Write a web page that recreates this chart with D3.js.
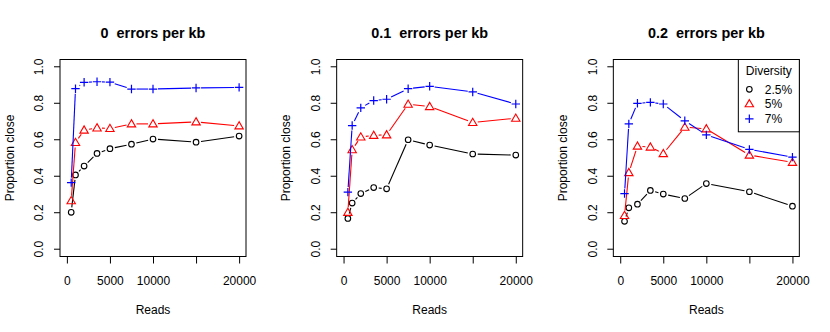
<!DOCTYPE html>
<html><head><meta charset="utf-8">
<script src="https://cdn.jsdelivr.net/npm/d3@7"></script>
<style>html,body{margin:0;padding:0;background:#fff;}svg{display:block;font-family:"Liberation Sans",Arial,Helvetica,sans-serif;}svg text{white-space:pre;}</style>
</head><body>
<script>
const reads = [500, 1000, 2000, 3500, 5000, 7500, 10000, 15000, 20000];
const panelTitles = ["0  errors per kb", "0.1  errors per kb", "0.2  errors per kb"];
const diversity = ["2.5%", "5%", "7%"];
const seriesColors = ["#000000", "#ff0000", "#0000ff"];
const xTicks = [0, 5000, 10000, 15000, 20000];
const xTickLabels = ["0", "5000", "10000", "", "20000"];
const yTicks = [0, 0.2, 0.4, 0.6, 0.8, 1.0];
const yTickLabels = ["0.0", "0.2", "0.4", "0.6", "0.8", "1.0"];
// values per panel: [2.5%, 5%, 7%]
const panel0 = [
  [0.202, 0.407, 0.456, 0.525, 0.551, 0.576, 0.604, 0.587, 0.620],
  [0.266, 0.585, 0.653, 0.665, 0.662, 0.687, 0.687, 0.698, 0.676],
  [0.365, 0.880, 0.915, 0.918, 0.916, 0.878, 0.878, 0.884, 0.887]
];
const panel1 = [
  [0.169, 0.253, 0.305, 0.338, 0.331, 0.600, 0.571, 0.522, 0.516],
  [0.202, 0.545, 0.615, 0.624, 0.627, 0.795, 0.782, 0.695, 0.718],
  [0.313, 0.678, 0.775, 0.815, 0.822, 0.880, 0.893, 0.862, 0.796]
];
const panel2 = [
  [0.153, 0.227, 0.247, 0.322, 0.302, 0.278, 0.360, 0.315, 0.236],
  [0.185, 0.420, 0.565, 0.560, 0.524, 0.669, 0.660, 0.516, 0.476],
  [0.305, 0.687, 0.800, 0.805, 0.796, 0.704, 0.627, 0.547, 0.505]
];
const panels = [panel0, panel1, panel2];

const W = 830, H = 332;
const svg = d3.select("body").append("svg").attr("width", W).attr("height", H);
const panelW = W / 3;
const boxL = 60, boxW = 186, boxT = 59.5, boxB = 256.5;
const xDom = [0, 20000], yDom = [0, 1];
const xPad = (xDom[1] - xDom[0]) * 0.04, yPad = (yDom[1] - yDom[0]) * 0.04;
const fs = 12;

function symbol(g, type, x, y, color) {
  if (type === 0) {
    g.append("circle").attr("cx", x).attr("cy", y).attr("r", 2.8)
      .attr("fill", "none").attr("stroke", color).attr("stroke-width", 1.1);
  } else if (type === 1) {
    const s = 4.2;
    const pts = [[x, y - s * 1.0], [x - s, y + s * 0.72], [x + s, y + s * 0.72]];
    g.append("path").attr("d", "M" + pts.map(p => p.join(",")).join("L") + "Z")
      .attr("fill", "none").attr("stroke", color).attr("stroke-width", 1.1);
  } else {
    const s = 4.2;
    g.append("path").attr("d", `M${x - s},${y}H${x + s}M${x},${y - s}V${y + s}`)
      .attr("stroke", color).attr("stroke-width", 1.2);
  }
}

panels.forEach((pdata, pi) => {
  const g = svg.append("g").attr("transform", `translate(${pi * panelW},0)`);
  const x = d3.scaleLinear().domain([xDom[0] - xPad, xDom[1] + xPad]).range([boxL, boxL + boxW]);
  const y = d3.scaleLinear().domain([yDom[0] - yPad, yDom[1] + yPad]).range([boxB, boxT]);

  // title
  g.append("text").attr("x", boxL + boxW / 2).attr("y", 37.5).attr("text-anchor", "middle")
    .attr("font-weight", "bold").attr("font-size", 14.4).text(panelTitles[pi]);

  // y axis
  const yAxis = d3.axisLeft(y).tickValues(yTicks).tickSize(6).tickPadding(0)
    .tickFormat((d, i) => yTickLabels[i]);
  const ya = g.append("g").attr("transform", `translate(${boxL},0)`).call(yAxis);
  ya.select(".domain").remove();
  ya.selectAll("line").attr("stroke", "#000");
  ya.selectAll("text").attr("font-size", fs).attr("fill", "#000")
    .attr("transform", null)
    .each(function (d) {
      d3.select(this).attr("x", null).attr("dy", null)
        .attr("transform", `translate(${-16.7},${y(d)}) rotate(-90)`)
        .attr("text-anchor", "middle").attr("y", 0);
    });
  ya.selectAll(".tick").attr("transform", null);
  ya.selectAll(".tick line").each(function (d) {
    d3.select(this).attr("y1", y(d)).attr("y2", y(d));
  });

  // x axis
  const xAxis = d3.axisBottom(x).tickValues(xTicks).tickSize(7).tickPadding(0)
    .tickFormat((d, i) => xTickLabels[i]);
  const xa = g.append("g").attr("transform", `translate(0,${boxB})`).call(xAxis);
  xa.select(".domain").remove();
  xa.selectAll("line").attr("stroke", "#000");
  xa.selectAll("text").attr("font-size", fs).attr("fill", "#000").attr("dy", null).attr("y", 28);

  // box
  g.append("rect").attr("x", boxL).attr("y", boxT).attr("width", boxW).attr("height", boxB - boxT)
    .attr("fill", "none").attr("stroke", "#000").attr("stroke-width", 1);

  // axis labels
  g.append("text").attr("x", boxL + boxW / 2).attr("y", 313.5).attr("text-anchor", "middle")
    .attr("font-size", fs).text("Reads");
  g.append("text").attr("transform", `translate(13.8,${(boxT + boxB) / 2}) rotate(-90)`)
    .attr("text-anchor", "middle").attr("font-size", fs).text("Proportion close");

  // series (type = "b": lines with gaps around points)
  const gap = 5;
  pdata.forEach((vals, si) => {
    const col = seriesColors[si];
    const pts = reads.map((r, i) => [x(r), y(vals[i])]);
    for (let i = 0; i < pts.length - 1; i++) {
      const [x1, y1] = pts[i], [x2, y2] = pts[i + 1];
      const dx = x2 - x1, dy = y2 - y1, len = Math.hypot(dx, dy);
      if (len <= 2 * gap) continue;
      const ux = dx / len, uy = dy / len;
      g.append("line").attr("x1", x1 + ux * gap).attr("y1", y1 + uy * gap)
        .attr("x2", x2 - ux * gap).attr("y2", y2 - uy * gap)
        .attr("stroke", col).attr("stroke-width", 1.1);
    }
    pts.forEach(p => symbol(g, si, p[0], p[1], col));
  });

  // legend in last panel
  if (pi === 2) {
    const lx = boxL + boxW - 61, ly = boxT, lw = 61, lh = 72.3;
    g.append("rect").attr("x", lx).attr("y", ly).attr("width", lw).attr("height", lh)
      .attr("fill", "#fff").attr("stroke", "#000").attr("stroke-width", 1);
    g.append("text").attr("x", lx + lw / 2).attr("y", ly + 15.5).attr("text-anchor", "middle")
      .attr("font-size", fs).text("Diversity");
    const rows = [89.3, 103.8, 118.8];
    diversity.forEach((lab, si) => {
      symbol(g, si, lx + 11, rows[si], seriesColors[si]);
      g.append("text").attr("x", lx + 26.5).attr("y", rows[si] + 4.3).attr("font-size", fs).text(lab);
    });
  }
});
</script>
</body></html>
